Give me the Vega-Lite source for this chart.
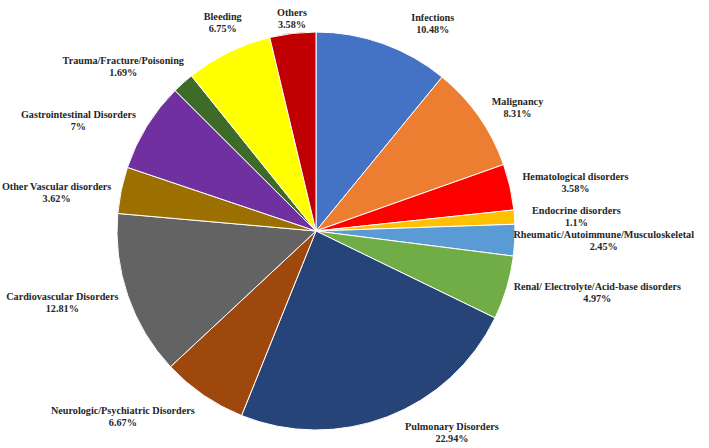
{
  "$schema": "https://vega.github.io/schema/vega-lite/v6.json",
  "width": 632,
  "height": 434,
  "autosize": {"type": "none"},
  "padding": {"left": 0, "top": 14, "right": 77, "bottom": 0},
  "background": "white",
  "view": {"stroke": null},
  "config": {
    "text": {"font": "Liberation Serif", "fontWeight": "bold", "fontSize": 10.2, "lineBreak": "\n", "lineHeight": 12, "align": "center", "baseline": "middle", "color": "#262626"}
  },
  "data": {
    "values": [
      {"order": 1, "category": "Infections", "value": 10.48},
      {"order": 2, "category": "Malignancy", "value": 8.31},
      {"order": 3, "category": "Hematological disorders", "value": 3.58},
      {"order": 4, "category": "Endocrine disorders", "value": 1.1},
      {"order": 5, "category": "Rheumatic/Autoimmune/Musculoskeletal", "value": 2.45},
      {"order": 6, "category": "Renal/ Electrolyte/Acid-base disorders", "value": 4.97},
      {"order": 7, "category": "Pulmonary Disorders", "value": 22.94},
      {"order": 8, "category": "Neurologic/Psychiatric Disorders", "value": 6.67},
      {"order": 9, "category": "Cardiovascular Disorders", "value": 12.81},
      {"order": 10, "category": "Other Vascular disorders", "value": 3.62},
      {"order": 11, "category": "Gastrointestinal Disorders", "value": 7},
      {"order": 12, "category": "Trauma/Fracture/Poisoning", "value": 1.69},
      {"order": 13, "category": "Bleeding", "value": 6.75},
      {"order": 14, "category": "Others", "value": 3.58}
    ]
  },
  "transform": [
    {"window": [{"op": "sum", "field": "value", "as": "cum"}], "sort": [{"field": "order"}], "frame": [null, 0]},
    {"calculate": "datum.cum - datum.value / 2", "as": "mid"},
    {"calculate": "datum.category + '\\n' + datum.value + '%'", "as": "label"}
  ],
  "layer": [
    {
      "mark": {"type": "arc", "outerRadius": 199, "stroke": "white", "strokeWidth": 1},
      "encoding": {
        "theta": {"field": "value", "type": "quantitative", "stack": true},
        "order": {"field": "order", "type": "quantitative"},
        "color": {
          "field": "category",
          "type": "nominal",
          "legend": null,
          "scale": {
            "domain": ["Infections", "Malignancy", "Hematological disorders", "Endocrine disorders", "Rheumatic/Autoimmune/Musculoskeletal", "Renal/ Electrolyte/Acid-base disorders", "Pulmonary Disorders", "Neurologic/Psychiatric Disorders", "Cardiovascular Disorders", "Other Vascular disorders", "Gastrointestinal Disorders", "Trauma/Fracture/Poisoning", "Bleeding", "Others"],
            "range": ["#4472C4", "#ED7D31", "#FF0000", "#FFC000", "#5B9BD5", "#70AD47", "#264478", "#9E480E", "#636363", "#9B6F00", "#7030A0", "#3E6A2A", "#FFFF00", "#C00000"]
          }
        }
      }
    },
    {"transform": [{"filter": {"field": "category", "equal": "Infections"}}],
     "mark": {"type": "text", "radius": 228, "dx": 40, "dy": 2},
     "encoding": {"theta": {"field": "mid", "type": "quantitative"}, "text": {"field": "label", "type": "nominal"}}},
    {"transform": [{"filter": {"field": "category", "equal": "Malignancy"}}],
     "mark": {"type": "text", "radius": 245, "dx": 1, "dy": 12},
     "encoding": {"theta": {"field": "mid", "type": "quantitative"}, "text": {"field": "label", "type": "nominal"}}},
    {"transform": [{"filter": {"field": "category", "equal": "Hematological disorders"}}],
     "mark": {"type": "text", "radius": 263, "dx": 3, "dy": 4},
     "encoding": {"theta": {"field": "mid", "type": "quantitative"}, "text": {"field": "label", "type": "nominal"}}},
    {"transform": [{"filter": {"field": "category", "equal": "Endocrine disorders"}}],
     "mark": {"type": "text", "radius": 263, "dx": -2, "dy": -2},
     "encoding": {"theta": {"field": "mid", "type": "quantitative"}, "text": {"field": "label", "type": "nominal"}}},
    {"transform": [{"filter": {"field": "category", "equal": "Rheumatic/Autoimmune/Musculoskeletal"}}],
     "mark": {"type": "text", "radius": 282, "dx": 6, "dy": -9},
     "encoding": {"theta": {"field": "mid", "type": "quantitative"}, "text": {"field": "label", "type": "nominal"}}},
    {"transform": [{"filter": {"field": "category", "equal": "Renal/ Electrolyte/Acid-base disorders"}}],
     "mark": {"type": "text", "radius": 282, "dx": 11, "dy": -24},
     "encoding": {"theta": {"field": "mid", "type": "quantitative"}, "text": {"field": "label", "type": "nominal"}}},
    {"transform": [{"filter": {"field": "category", "equal": "Pulmonary Disorders"}}],
     "mark": {"type": "text", "radius": 214, "dx": 59, "dy": -4},
     "encoding": {"theta": {"field": "mid", "type": "quantitative"}, "text": {"field": "label", "type": "nominal"}}},
    {"transform": [{"filter": {"field": "category", "equal": "Neurologic/Psychiatric Disorders"}}],
     "mark": {"type": "text", "radius": 214, "dx": -72, "dy": 4},
     "encoding": {"theta": {"field": "mid", "type": "quantitative"}, "text": {"field": "label", "type": "nominal"}}},
    {"transform": [{"filter": {"field": "category", "equal": "Cardiovascular Disorders"}}],
     "mark": {"type": "text", "radius": 263, "dx": -5, "dy": -20},
     "encoding": {"theta": {"field": "mid", "type": "quantitative"}, "text": {"field": "label", "type": "nominal"}}},
    {"transform": [{"filter": {"field": "category", "equal": "Other Vascular disorders"}}],
     "mark": {"type": "text", "radius": 263, "dx": -2, "dy": 10},
     "encoding": {"theta": {"field": "mid", "type": "quantitative"}, "text": {"field": "label", "type": "nominal"}}},
    {"transform": [{"filter": {"field": "category", "equal": "Gastrointestinal Disorders"}}],
     "mark": {"type": "text", "radius": 263, "dx": -14, "dy": 22},
     "encoding": {"theta": {"field": "mid", "type": "quantitative"}, "text": {"field": "label", "type": "nominal"}}},
    {"transform": [{"filter": {"field": "category", "equal": "Trauma/Fracture/Poisoning"}}],
     "mark": {"type": "text", "radius": 263, "dx": -17, "dy": 26},
     "encoding": {"theta": {"field": "mid", "type": "quantitative"}, "text": {"field": "label", "type": "nominal"}}},
    {"transform": [{"filter": {"field": "category", "equal": "Bleeding"}}],
     "mark": {"type": "text", "radius": 228, "dx": 7, "dy": -9},
     "encoding": {"theta": {"field": "mid", "type": "quantitative"}, "text": {"field": "label", "type": "nominal"}}},
    {"transform": [{"filter": {"field": "category", "equal": "Others"}}],
     "mark": {"type": "text", "radius": 214, "dx": 1, "dy": -5},
     "encoding": {"theta": {"field": "mid", "type": "quantitative"}, "text": {"field": "label", "type": "nominal"}}}
  ]
}
